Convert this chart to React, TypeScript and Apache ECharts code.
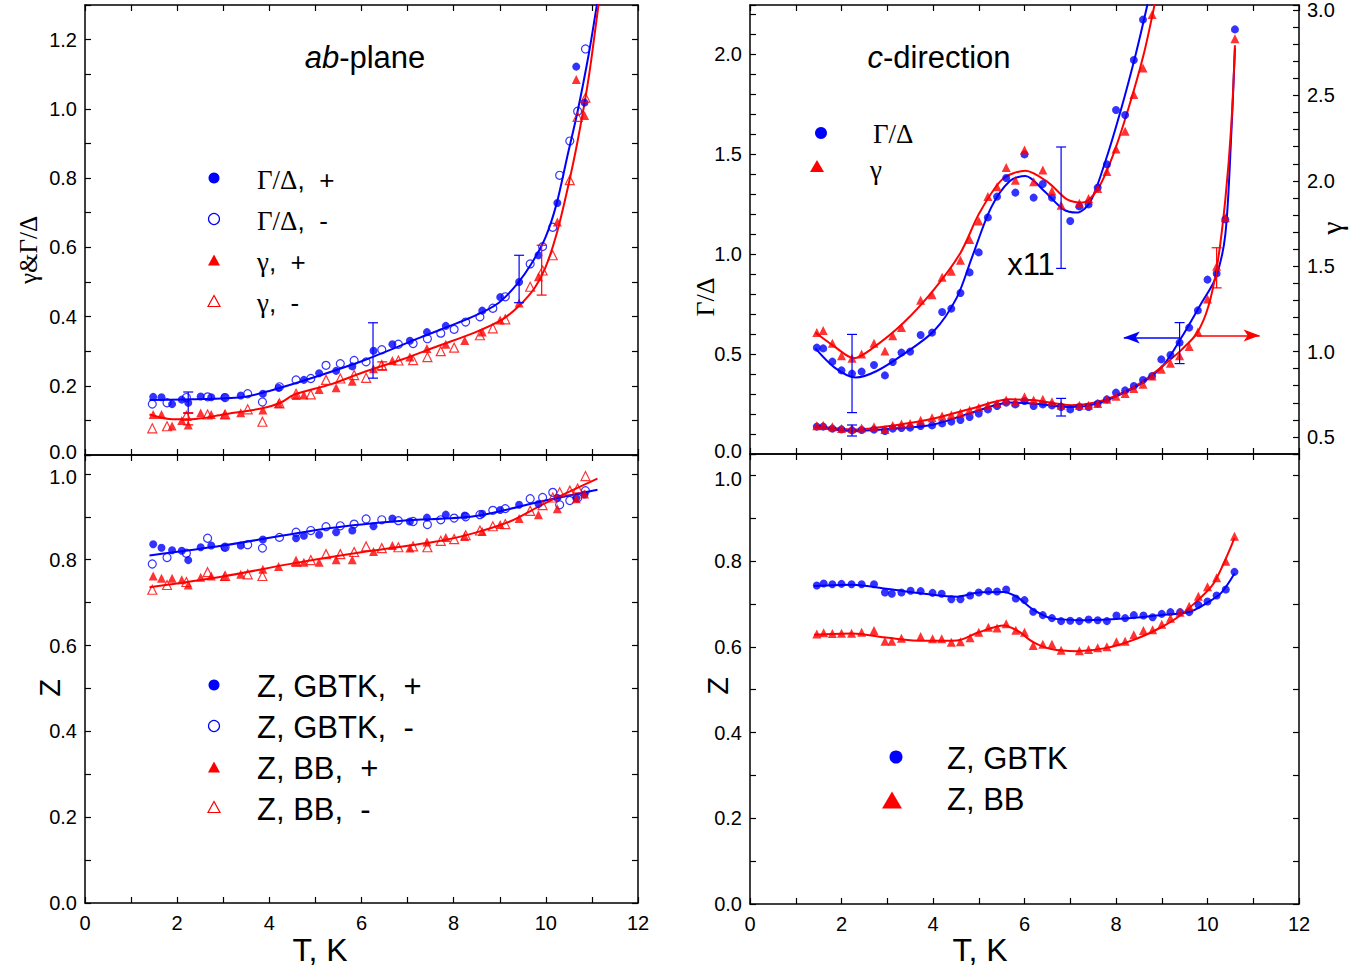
import React, { useEffect, useRef } from 'react';
import * as echarts from 'echarts';

const BLUE = '#0000ff';
const RED = '#ff0000';
const SANS = 'Arial, "Liberation Sans", Helvetica, sans-serif';
const SERIF = '"Times New Roman", "Liberation Serif", Times, serif';

// ---------- tick labels ----------
const xTickLabels = [0, 2, 4, 6, 8, 10, 12];
const zTickLabels = [0, 0.2, 0.4, 0.6, 0.8, 1.0];
const abTickLabels = [0, 0.2, 0.4, 0.6, 0.8, 1.0, 1.2];
const cGDTickLabels = [0, 0.5, 1.0, 1.5, 2.0];
const cGammaTickLabels = [0.5, 1.0, 1.5, 2.0, 2.5, 3.0];

// ---------- ab-plane (top-left) ----------
const abGDPlus = [[1.48,0.168],[1.66,0.167],[1.89,0.147],[2.10,0.160],[2.24,0.151],[2.51,0.169],[2.74,0.167],[3.03,0.167],[3.38,0.172],[3.86,0.177],[4.20,0.194],[4.75,0.217],[5.08,0.236],[5.45,0.243],[5.80,0.256],[6.26,0.301],[6.67,0.320],[7.05,0.330],[7.42,0.355],[7.83,0.373],[8.62,0.417],[9.01,0.456],[9.42,0.500],[9.84,0.577],[10.25,0.728],[10.66,1.122],[10.84,1.018]];
const abGDMinus = [[1.46,0.147],[1.78,0.151],[2.20,0.166],[2.66,0.168],[3.04,0.166],[3.53,0.177],[3.85,0.153],[4.22,0.197],[4.58,0.217],[4.90,0.221],[5.23,0.259],[5.54,0.264],[5.84,0.273],[6.10,0.269],[6.44,0.304],[6.80,0.320],[7.12,0.322],[7.43,0.336],[7.72,0.352],[8.01,0.363],[8.26,0.384],[8.57,0.399],[8.85,0.424],[9.12,0.457],[9.66,0.552],[9.93,0.602],[10.15,0.658],[10.30,0.808],[10.52,0.907],[10.69,0.993],[10.86,1.173]];
const abGammaPlus = [[1.48,0.117],[1.66,0.117],[1.89,0.084],[2.10,0.100],[2.24,0.087],[2.51,0.121],[2.74,0.117],[3.03,0.117],[3.38,0.122],[3.86,0.130],[4.20,0.149],[4.58,0.172],[4.75,0.173],[5.08,0.189],[5.45,0.194],[5.80,0.213],[6.26,0.249],[6.67,0.273],[7.05,0.283],[7.42,0.308],[7.83,0.320],[8.24,0.331],[8.62,0.355],[9.01,0.390],[9.42,0.439],[9.84,0.515],[10.25,0.673],[10.66,1.085],[10.84,0.981]];
const abGammaMinus = [[1.46,0.077],[1.78,0.083],[2.20,0.113],[2.66,0.117],[3.04,0.117],[3.53,0.132],[3.85,0.096],[4.22,0.149],[4.58,0.177],[4.90,0.175],[5.23,0.217],[5.54,0.221],[5.84,0.231],[6.10,0.223],[6.44,0.260],[6.80,0.273],[7.12,0.274],[7.43,0.283],[7.72,0.300],[8.01,0.310],[8.57,0.346],[8.85,0.366],[9.12,0.392],[9.66,0.486],[9.93,0.533],[10.15,0.577],[10.52,0.794],[10.69,0.977],[10.86,1.032]];
const abFitGD = [[1.40,0.159],[2.3,0.161],[3.4,0.167],[4.0,0.185],[4.94,0.223],[6.10,0.276],[7.27,0.339],[8.44,0.401],[8.98,0.440],[9.37,0.493],[9.68,0.551],[9.99,0.628],[10.23,0.724],[10.46,0.859],[10.69,0.993],[10.93,1.157],[11.08,1.277],[11.12,1.31]];
const abFitGamma = [[1.40,0.117],[1.91,0.103],[2.4,0.104],[3.0,0.117],[3.85,0.135],[4.24,0.151],[4.55,0.175],[5.33,0.204],[6.10,0.242],[6.88,0.276],[7.66,0.315],[8.44,0.353],[9.06,0.392],[9.45,0.435],[9.76,0.483],[9.99,0.541],[10.23,0.637],[10.46,0.762],[10.69,0.907],[10.93,1.090],[11.12,1.277],[11.16,1.32]];
const abErrGD = [[2.24,0.121,0.182],[6.25,0.222,0.382],[9.42,0.44,0.577]];
const abErrGamma = [[2.24,0.087,0.122],[6.45,0.245,0.269],[9.91,0.462,0.606]];

// ---------- c-direction (top-right) ----------
const cUpperGD = [[1.46,0.532],[1.60,0.528],[1.80,0.462],[2.00,0.418],[2.23,0.402],[2.44,0.412],[2.71,0.445],[2.95,0.393],[3.12,0.46],[3.31,0.507],[3.50,0.512],[3.73,0.595],[3.98,0.607],[4.20,0.71],[4.40,0.727],[4.60,0.805],[4.80,0.908],[5.00,1.008],[5.20,1.183],[5.40,1.287],[5.60,1.38],[5.80,1.307],[6.00,1.498],[6.20,1.282],[6.40,1.35],[6.60,1.282],[7.00,1.165],[7.20,1.238],[7.40,1.248],[7.60,1.332],[7.80,1.448],[8.00,1.72],[8.20,1.695],[8.39,1.97],[8.59,2.172]];
const cUpperGamma = [[1.46,1.112],[1.60,1.124],[1.80,1.049],[2.00,0.975],[2.23,0.961],[2.44,0.986],[2.71,1.049],[2.95,1.004],[3.12,1.092],[3.31,1.141],[3.73,1.30],[3.98,1.333],[4.20,1.435],[4.40,1.471],[4.60,1.535],[4.80,1.657],[5.00,1.765],[5.20,1.908],[5.40,1.965],[5.60,2.078],[5.80,2.004],[6.00,2.18],[6.20,1.994],[6.40,2.063],[6.60,1.941],[6.80,1.857],[7.20,1.869],[7.40,1.896],[7.60,1.955],[7.80,2.055],[8.00,2.186],[8.20,2.29],[8.39,2.506],[8.59,2.661],[8.79,2.975]];
const cLowerGD = [[1.46,0.137],[1.60,0.137],[1.80,0.127],[2.00,0.123],[2.23,0.118],[2.44,0.12],[2.71,0.122],[2.95,0.115],[3.12,0.127],[3.31,0.13],[3.50,0.132],[3.73,0.14],[3.98,0.143],[4.20,0.153],[4.40,0.162],[4.60,0.17],[4.80,0.185],[5.00,0.202],[5.20,0.223],[5.40,0.24],[5.60,0.257],[5.80,0.248],[6.00,0.265],[6.20,0.24],[6.40,0.248],[6.60,0.243],[6.80,0.235],[7.00,0.223],[7.20,0.235],[7.40,0.235],[7.60,0.252],[7.80,0.273],[8.00,0.307],[8.20,0.318],[8.39,0.34],[8.59,0.37],[8.79,0.39],[8.99,0.473],[9.19,0.495],[9.39,0.557],[9.60,0.632],[9.79,0.718],[10.0,0.872],[10.2,0.903],[10.39,1.173],[10.6,2.123]];
const cLowerGamma = [[1.46,0.565],[1.60,0.569],[1.80,0.559],[2.00,0.549],[2.23,0.549],[2.44,0.553],[2.71,0.559],[2.95,0.543],[3.12,0.567],[3.31,0.575],[3.50,0.578],[3.73,0.598],[3.98,0.612],[4.20,0.622],[4.40,0.629],[4.60,0.641],[4.80,0.657],[5.00,0.673],[5.20,0.686],[5.40,0.696],[5.60,0.716],[5.80,0.706],[6.00,0.735],[6.20,0.716],[6.40,0.72],[6.60,0.706],[6.80,0.686],[7.20,0.686],[7.40,0.686],[7.60,0.696],[7.80,0.72],[8.00,0.739],[8.20,0.755],[8.39,0.784],[8.59,0.808],[8.79,0.857],[8.99,0.896],[9.19,0.931],[9.39,0.975],[9.60,1.029],[9.79,1.114],[10.0,1.308],[10.2,1.5],[10.39,1.784],[10.6,2.833]];
const cFitUpperGD = [[1.43,0.528],[1.85,0.432],[2.31,0.382],[2.77,0.415],[3.35,0.498],[4.02,0.615],[4.52,0.782],[4.85,0.982],[5.27,1.232],[5.68,1.365],[6.02,1.39],[6.43,1.315],[6.85,1.223],[7.14,1.207],[7.43,1.257],[7.77,1.465],[8.10,1.715],[8.43,1.998],[8.68,2.24],[8.72,2.29]];
const cFitUpperGamma = [[1.43,1.112],[1.85,1.029],[2.27,0.961],[2.68,1.02],[3.35,1.167],[4.02,1.363],[4.60,1.578],[5.02,1.814],[5.52,2.01],[6.02,2.059],[6.52,1.99],[6.93,1.892],[7.27,1.873],[7.60,1.951],[7.93,2.147],[8.27,2.422],[8.60,2.735],[8.85,3.04],[8.88,3.09]];
const cFitLowerGD = [[1.43,0.135],[2.27,0.115],[3.18,0.127],[4.02,0.148],[4.85,0.207],[5.68,0.257],[6.18,0.253],[7.02,0.235],[7.52,0.248],[8.02,0.29],[8.52,0.348],[9.02,0.44],[9.43,0.582],[9.85,0.748],[10.18,0.882],[10.39,1.098],[10.52,1.6],[10.6,2.03]];
const cFitLowerGamma = [[1.43,0.565],[2.27,0.543],[3.18,0.569],[4.02,0.608],[4.85,0.667],[5.68,0.72],[6.18,0.716],[7.02,0.686],[7.52,0.7],[8.02,0.745],[8.52,0.814],[9.02,0.916],[9.43,1.01],[9.77,1.108],[10.02,1.265],[10.22,1.52],[10.39,1.892],[10.52,2.324],[10.6,2.794]];
const cErrGD = [[2.23,0.207,0.598],[6.8,0.928,1.535],[2.23,0.09,0.145],[6.8,0.19,0.278],[9.39,0.452,0.657]];
const cErrGamma = [[10.2,1.373,1.608]];
const cArrowGD = [[9.39,0.582],[8.17,0.582]];
const cArrowGamma = [[9.77,1.094],[11.14,1.094]];

// ---------- Z ab-plane (bottom-left) ----------
const abZGbtkPlus = [[1.48,0.836],[1.66,0.828],[1.89,0.822],[2.10,0.821],[2.24,0.799],[2.51,0.829],[2.74,0.833],[3.03,0.829],[3.38,0.833],[3.86,0.847],[4.58,0.850],[4.75,0.856],[5.08,0.858],[5.45,0.864],[5.80,0.868],[6.26,0.878],[6.67,0.896],[7.05,0.889],[7.42,0.898],[7.83,0.905],[8.24,0.903],[8.62,0.907],[9.01,0.916],[9.42,0.928],[9.84,0.930],[10.25,0.944],[10.66,0.944],[10.84,0.952]];
const abZGbtkMinus = [[1.46,0.790],[1.78,0.805],[2.20,0.815],[2.66,0.850],[3.04,0.829],[3.53,0.835],[3.85,0.827],[4.22,0.852],[4.58,0.864],[4.90,0.868],[5.23,0.877],[5.54,0.879],[5.84,0.883],[6.10,0.895],[6.44,0.893],[6.80,0.891],[7.12,0.889],[7.43,0.882],[7.72,0.893],[8.01,0.897],[8.26,0.900],[8.57,0.905],[8.85,0.915],[9.12,0.919],[9.66,0.942],[9.93,0.945],[10.15,0.957],[10.30,0.928],[10.52,0.938],[10.69,0.944],[10.86,0.961]];
const abZBbPlus = [[1.48,0.762],[1.66,0.757],[1.89,0.757],[2.10,0.753],[2.24,0.741],[2.51,0.759],[2.74,0.762],[3.03,0.761],[3.38,0.766],[3.86,0.778],[4.20,0.784],[4.58,0.794],[4.75,0.794],[5.08,0.794],[5.45,0.800],[5.80,0.800],[6.26,0.819],[6.67,0.833],[7.05,0.827],[7.42,0.841],[7.83,0.852],[8.24,0.854],[8.62,0.866],[9.01,0.882],[9.42,0.896],[9.84,0.905],[10.25,0.919],[10.66,0.942],[10.84,0.953]];
const abZBbMinus = [[1.46,0.730],[1.78,0.741],[2.20,0.748],[2.66,0.771],[3.04,0.762],[3.53,0.766],[3.85,0.762],[4.58,0.796],[4.90,0.799],[5.23,0.813],[5.54,0.813],[5.84,0.818],[6.10,0.831],[6.44,0.827],[6.80,0.829],[7.12,0.831],[7.43,0.829],[7.72,0.844],[8.01,0.848],[8.26,0.857],[8.57,0.868],[8.85,0.878],[9.12,0.883],[9.66,0.914],[9.93,0.927],[10.15,0.945],[10.30,0.957],[10.52,0.961],[10.69,0.966],[10.86,0.995]];
const abZFitGbtk = [[1.40,0.81],[2.99,0.833],[5.33,0.874],[6.88,0.891],[8.44,0.901],[9.99,0.938],[11.12,0.963]];
const abZFitBb = [[1.40,0.736],[2.99,0.761],[4.55,0.792],[6.10,0.819],[7.66,0.843],[8.44,0.862],[9.22,0.889],[9.99,0.932],[11.12,0.989]];

// ---------- Z c-direction (bottom-right) ----------
const cZGbtk = [[1.46,0.743],[1.61,0.748],[1.80,0.746],[2.00,0.747],[2.22,0.746],[2.44,0.746],[2.71,0.746],[2.95,0.727],[3.10,0.724],[3.31,0.727],[3.51,0.731],[3.73,0.730],[3.99,0.726],[4.19,0.724],[4.40,0.711],[4.60,0.711],[4.81,0.720],[5.00,0.727],[5.21,0.730],[5.40,0.729],[5.60,0.734],[5.81,0.713],[6.00,0.709],[6.19,0.682],[6.40,0.674],[6.60,0.667],[6.80,0.660],[7.00,0.661],[7.20,0.660],[7.40,0.664],[7.60,0.662],[7.80,0.660],[8.01,0.673],[8.20,0.667],[8.39,0.674],[8.60,0.673],[8.80,0.669],[9.00,0.677],[9.19,0.681],[9.40,0.681],[9.60,0.681],[9.80,0.698],[10.0,0.706],[10.2,0.720],[10.4,0.734],[10.59,0.775]];
const cZBb = [[1.46,0.630],[1.61,0.633],[1.80,0.631],[2.00,0.632],[2.22,0.632],[2.44,0.634],[2.71,0.638],[2.95,0.613],[3.10,0.613],[3.31,0.620],[3.73,0.624],[3.99,0.619],[4.19,0.619],[4.40,0.611],[4.60,0.612],[4.81,0.621],[5.00,0.634],[5.21,0.646],[5.40,0.644],[5.60,0.654],[5.81,0.639],[6.00,0.634],[6.19,0.603],[6.40,0.606],[6.60,0.606],[6.80,0.592],[7.20,0.591],[7.40,0.594],[7.60,0.598],[7.80,0.600],[8.01,0.612],[8.20,0.613],[8.39,0.628],[8.60,0.638],[8.80,0.640],[9.00,0.653],[9.19,0.667],[9.40,0.681],[9.60,0.695],[9.80,0.718],[10.0,0.740],[10.2,0.761],[10.4,0.800],[10.59,0.858]];
const cZFitGbtk = [[1.40,0.742],[2.23,0.745],[3.02,0.735],[3.81,0.724],[4.53,0.717],[5.0,0.727],[5.55,0.728],[5.87,0.714],[6.19,0.687],[6.58,0.667],[7.37,0.662],[8.16,0.666],[8.96,0.674],[9.59,0.681],[9.98,0.702],[10.3,0.726],[10.59,0.771]];
const cZFitBb = [[1.40,0.628],[2.23,0.631],[3.02,0.621],[3.81,0.614],[4.53,0.615],[5.0,0.634],[5.55,0.650],[5.87,0.636],[6.19,0.611],[6.58,0.595],[7.14,0.590],[7.77,0.597],[8.4,0.617],[8.96,0.644],[9.35,0.669],[9.75,0.705],[10.14,0.749],[10.59,0.854]];

// ---------- helpers ----------
const near = (a: number, b: number) => Math.abs(a - b) < 1e-6;
const inList = (list: number[]) => (v: number) => list.some((t) => near(t, v));

// shift: 'up' / 'dn' nudges one boundary label off its neighbour panel's label
const fmt = (list: number[], digits: number, shift?: { value: number; dir: 'up' | 'dn' }) => {
  const has = inList(list);
  return (v: number) => {
    if (!has(v)) return '';
    const s = v.toFixed(digits);
    return shift && near(v, shift.value) ? `{${shift.dir}|${s}}` : s;
  };
};

const AXIS_LINE = { show: true, onZero: false, lineStyle: { color: '#000', width: 1.5 } };
const TICK = { show: true, inside: true, length: 6, lineStyle: { color: '#000', width: 1.2 } };
const LABEL_FONT = { color: '#000', fontSize: 20, fontFamily: SANS };
const LABEL_RICH = {
  up: { ...LABEL_FONT, padding: [0, 0, 7, 0] },
  dn: { ...LABEL_FONT, padding: [7, 0, 0, 0] },
};

function xAx(grid: number, position: 'top' | 'bottom', labels: boolean) {
  return {
    type: 'value', gridIndex: grid, position, min: 0, max: 12, interval: 1,
    axisLine: AXIS_LINE, axisTick: TICK, splitLine: { show: false },
    axisLabel: labels
      ? { show: true, margin: 10, ...LABEL_FONT, formatter: fmt(xTickLabels, 0) }
      : { show: false },
  };
}

function yAx(grid: number, position: 'left' | 'right', min: number, max: number, labels: number[] | null, shift?: { value: number; dir: 'up' | 'dn' }) {
  return {
    type: 'value', gridIndex: grid, position, min, max, interval: 0.1,
    axisLine: AXIS_LINE, axisTick: TICK, splitLine: { show: false },
    axisLabel: labels
      ? { show: true, margin: 8, ...LABEL_FONT, rich: LABEL_RICH, formatter: fmt(labels, 1, shift) }
      : { show: false },
  };
}

function scatter(name: string, data: number[][], xi: number, yi: number, symbol: string, size: number, color: string, open = false) {
  return {
    type: 'scatter', name, data, xAxisIndex: xi, yAxisIndex: yi, symbol, symbolSize: size,
    itemStyle: open
      ? { color: 'rgba(255,255,255,0)', borderColor: color, borderWidth: 1.2 }
      : { color },
    z: 3,
  };
}

function fit(name: string, data: number[][], xi: number, yi: number, color: string, extra: any = {}) {
  return {
    type: 'line', name, data, xAxisIndex: xi, yAxisIndex: yi,
    showSymbol: false, symbol: 'none', smooth: 0.3, clip: true,
    lineStyle: { color, width: 2 }, z: 2, ...extra,
  };
}

function errBars(name: string, data: number[][], xi: number, yi: number, color: string, cap = 5) {
  return {
    type: 'custom', name, data, xAxisIndex: xi, yAxisIndex: yi, z: 4,
    renderItem: (_p: any, api: any) => {
      const x = api.value(0);
      const a = api.coord([x, api.value(1)]);
      const b = api.coord([x, api.value(2)]);
      const st = { stroke: color, lineWidth: 1.2 };
      return {
        type: 'group',
        children: [
          { type: 'line', shape: { x1: a[0], y1: a[1], x2: b[0], y2: b[1] }, style: st },
          { type: 'line', shape: { x1: a[0] - cap, y1: a[1], x2: a[0] + cap, y2: a[1] }, style: st },
          { type: 'line', shape: { x1: b[0] - cap, y1: b[1], x2: b[0] + cap, y2: b[1] }, style: st },
        ],
      };
    },
  };
}

function arrow(data: number[][], color: string) {
  return {
    silent: true, symbol: ['none', 'arrow'], symbolSize: [9, 16],
    label: { show: false },
    lineStyle: { color, type: 'solid', width: 1.5 },
    data: [[{ coord: data[0] }, { coord: data[1] }]],
  };
}

function txt(x: number, y: number, text: string, size: number, family: string, opts: any = {}) {
  return {
    type: 'text', x, y, rotation: opts.rotation || 0, z: 10,
    style: {
      text, fill: '#000', fontSize: size, fontFamily: family,
      align: opts.align || 'left', verticalAlign: 'middle',
      rich: opts.rich,
    },
  };
}

function mixed(x: number, y: number, parts: [string, string][], rich: any, opts: any = {}) {
  return txt(x, y, parts.map(([k, s]) => `{${k}|${s}}`).join(''), 26, SANS, { ...opts, rich });
}

const RICH = {
  s: { fontFamily: SERIF, fontSize: 27, fill: '#000' },
  a: { fontFamily: SANS, fontSize: 26, fill: '#000' },
  i: { fontFamily: SANS, fontSize: 31, fontStyle: 'italic', fill: '#000' },
  n: { fontFamily: SANS, fontSize: 31, fill: '#000' },
};

function dot(cx: number, cy: number, r: number, color: string, open = false) {
  return {
    type: 'circle', shape: { cx, cy, r }, z: 10,
    style: open ? { fill: 'none', stroke: color, lineWidth: 1.2 } : { fill: color },
  };
}
function tri(cx: number, cy: number, w: number, h: number, color: string, open = false) {
  return {
    type: 'polygon', z: 10,
    shape: { points: [[cx, cy - h / 2], [cx - w / 2, cy + h / 2], [cx + w / 2, cy + h / 2]] },
    style: open ? { fill: 'none', stroke: color, lineWidth: 1.2 } : { fill: color },
  };
}

export default function App() {
  const ref = useRef<HTMLDivElement>(null);

  useEffect(() => {
    document.body.style.margin = '0';
    document.body.style.overflow = 'hidden';
    const chart = echarts.init(ref.current!, null, { renderer: 'svg' });

    const option: any = {
      animation: false,
      backgroundColor: '#fff',
      grid: [
        { left: 85, top: 5, width: 553, height: 450 },
        { left: 85, top: 455, width: 553, height: 448 },
        { left: 750, top: 5, width: 549, height: 449 },
        { left: 750, top: 454, width: 549, height: 450 },
      ],
      xAxis: [
        xAx(0, 'bottom', false), xAx(0, 'top', false),
        xAx(1, 'bottom', true), xAx(1, 'top', false),
        xAx(2, 'bottom', false), xAx(2, 'top', false),
        xAx(3, 'bottom', true), xAx(3, 'top', false),
      ],
      yAxis: [
        yAx(0, 'left', 0, 1.3, abTickLabels, { value: 0, dir: 'up' }),
        yAx(0, 'right', 0, 1.3, null),
        yAx(1, 'left', 0, 1.044, zTickLabels, { value: 1, dir: 'dn' }),
        yAx(1, 'right', 0, 1.044, null),
        yAx(2, 'left', 0, 2.245, cGDTickLabels, { value: 0, dir: 'up' }),
        yAx(2, 'right', 0.4, 3.03, cGammaTickLabels),
        yAx(3, 'left', 0, 1.05, zTickLabels, { value: 1, dir: 'dn' }),
        yAx(3, 'right', 0, 1.05, null),
      ],
      series: [
        // top-left
        fit('fit Γ/Δ ab', abFitGD, 0, 0, BLUE),
        fit('fit γ ab', abFitGamma, 0, 0, RED),
        scatter('Γ/Δ, +', abGDPlus, 0, 0, 'circle', 8, BLUE),
        scatter('Γ/Δ, -', abGDMinus, 0, 0, 'circle', 8, BLUE, true),
        scatter('γ, +', abGammaPlus, 0, 0, 'triangle', 9, RED),
        scatter('γ, -', abGammaMinus, 0, 0, 'triangle', 9, RED, true),
        errBars('err Γ/Δ ab', abErrGD, 0, 0, BLUE),
        errBars('err γ ab', abErrGamma, 0, 0, RED),
        // bottom-left
        fit('fit Z GBTK ab', abZFitGbtk, 2, 2, BLUE),
        fit('fit Z BB ab', abZFitBb, 2, 2, RED),
        scatter('Z, GBTK, +', abZGbtkPlus, 2, 2, 'circle', 8, BLUE),
        scatter('Z, GBTK, -', abZGbtkMinus, 2, 2, 'circle', 8, BLUE, true),
        scatter('Z, BB, +', abZBbPlus, 2, 2, 'triangle', 9, RED),
        scatter('Z, BB, -', abZBbMinus, 2, 2, 'triangle', 9, RED, true),
        // top-right
        fit('fit Γ/Δ c upper', cFitUpperGD, 4, 4, BLUE),
        fit('fit γ c upper', cFitUpperGamma, 4, 5, RED),
        fit('fit Γ/Δ c lower', cFitLowerGD, 4, 4, BLUE, { markLine: arrow(cArrowGD, BLUE) }),
        fit('fit γ c lower', cFitLowerGamma, 4, 5, RED, { markLine: arrow(cArrowGamma, RED) }),
        scatter('Γ/Δ upper', cUpperGD, 4, 4, 'circle', 8, BLUE),
        scatter('Γ/Δ lower', cLowerGD, 4, 4, 'circle', 8, BLUE),
        scatter('γ upper', cUpperGamma, 4, 5, 'triangle', 9, RED),
        scatter('γ lower', cLowerGamma, 4, 5, 'triangle', 9, RED),
        errBars('err Γ/Δ c', cErrGD, 4, 4, BLUE),
        errBars('err γ c', cErrGamma, 4, 5, RED),
        // bottom-right
        fit('fit Z GBTK c', cZFitGbtk, 6, 6, BLUE),
        fit('fit Z BB c', cZFitBb, 6, 6, RED),
        scatter('Z, GBTK', cZGbtk, 6, 6, 'circle', 8, BLUE),
        scatter('Z, BB', cZBb, 6, 6, 'triangle', 9, RED),
      ],
      graphic: [
        // panel titles
        mixed(365, 57, [['i', 'ab'], ['n', '-plane']], RICH, { align: 'center' }),
        mixed(939, 57, [['i', 'c'], ['n', '-direction']], RICH, { align: 'center' }),
        txt(1031, 264, 'x11', 31, SANS, { align: 'center' }),
        // axis names
        txt(28, 250, 'γ&Γ/Δ', 25, SERIF, { align: 'center', rotation: Math.PI / 2 }),
        txt(50, 688, 'Z', 29, SANS, { align: 'center', rotation: Math.PI / 2 }),
        txt(705, 297, 'Γ/Δ', 26, SERIF, { align: 'center', rotation: Math.PI / 2 }),
        txt(1331, 228, 'γ', 30, SERIF, { align: 'center', rotation: Math.PI / 2 }),
        txt(718, 686, 'Z', 29, SANS, { align: 'center', rotation: Math.PI / 2 }),
        txt(320, 950, 'T, K', 32, SANS, { align: 'center' }),
        txt(980, 950, 'T, K', 32, SANS, { align: 'center' }),
        // legend top-left
        dot(214, 178, 5.5, BLUE),
        dot(214, 219, 5.5, BLUE, true),
        tri(214, 260, 12, 11, RED),
        tri(214, 301, 12, 11, RED, true),
        mixed(257, 180, [['s', 'Γ/Δ'], ['a', ',  +']], RICH),
        mixed(257, 221, [['s', 'Γ/Δ'], ['a', ',  -']], RICH),
        mixed(257, 262, [['s', 'γ'], ['a', ',  +']], RICH),
        mixed(257, 303, [['s', 'γ'], ['a', ',  -']], RICH),
        // legend bottom-left
        dot(214, 685, 5.5, BLUE),
        dot(214, 726, 5.5, BLUE, true),
        tri(214, 767, 12, 11, RED),
        tri(214, 807, 12, 11, RED, true),
        txt(257, 686, 'Z, GBTK,  +', 31, SANS),
        txt(257, 727, 'Z, GBTK,  -', 31, SANS),
        txt(257, 768, 'Z, BB,  +', 31, SANS),
        txt(257, 809, 'Z, BB,  -', 31, SANS),
        // legend top-right
        dot(821, 133, 6, BLUE),
        tri(817, 166, 14, 12, RED),
        txt(873, 134, 'Γ/Δ', 27, SERIF),
        txt(870, 170, 'γ', 27, SERIF),
        // legend bottom-right
        dot(896, 757, 6.5, BLUE),
        tri(892, 800, 20, 17, RED),
        txt(947, 758, 'Z, GBTK', 31, SANS),
        txt(947, 799, 'Z, BB', 31, SANS),
      ],
    };

    chart.setOption(option);
    return () => chart.dispose();
  }, []);

  return <div ref={ref} style={{ width: 1369, height: 973 }} />;
}
